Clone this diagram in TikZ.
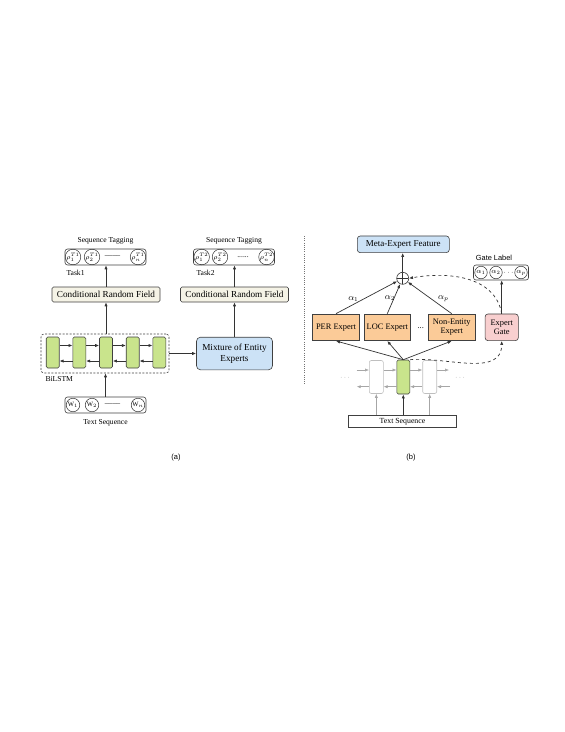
\documentclass[tikz,border=0pt]{standalone}
\usepackage{fontspec}
\setmainfont{Liberation Serif}
\newfontfamily\capfont{Liberation Sans}
\usetikzlibrary{arrows.meta,calc}
\definecolor{crffill}{HTML}{F5F3E6}
\definecolor{cellgreen}{HTML}{C9E48C}
\definecolor{mixblue}{HTML}{CCE2F6}
\definecolor{expertorange}{HTML}{FBCB98}
\definecolor{gatepink}{HTML}{F8CFCF}

\begin{document}
\begin{tikzpicture}[x=1pt, y=1pt, >={Latex[length=4pt,width=3.2pt]},
    box/.style={draw=black!75, line width=0.6pt, inner sep=1pt},
    crf/.style={box, fill=crffill, rounded corners=1.5pt, minimum width=108,
                minimum height=15, font=\fontsize{9.2}{10}\selectfont},
    tagbox/.style={box, rounded corners=2.5pt, minimum width=81, minimum height=16},
    tok/.style={circle, draw=black!80, line width=0.5pt, minimum size=13.5,
                inner sep=0pt, font=\fontsize{6.6}{6.6}\selectfont},
    cell/.style={box, fill=cellgreen, rounded corners=1.5pt, minimum width=13,
                 minimum height=31},
    ghost/.style={draw=black!25, line width=0.6pt, rounded corners=2pt,
                  minimum width=14, minimum height=33},
    expert/.style={box, fill=expertorange, minimum width=46.7, minimum height=26.7,
                   align=center, font=\fontsize{8.4}{9.5}\selectfont},
    small/.style={font=\fontsize{7.6}{8}\selectfont},
    arr/.style={->, line width=0.7pt, black!80},
    garr/.style={->, line width=0.6pt, black!35}]
    \useasboundingbox (0,0) rectangle (565,-732);

    % (a) left model
    \node[small] (titleL) at (105.5,-241) {Sequence Tagging};
    \node[tagbox] (tagL) at (105.5,-257) {};
    \node[tok] (yL1) at (73,-257) {$\rho^{T1}_1$};
    \node[tok] (yL2) at (92,-257) {$\rho^{T1}_2$};
    \node[small] (dotsL) at (112.5,-256) {\_\_\_\_};
    \node[tok] (yLn) at (138,-257) {$\rho^{T1}_n$};
    \node[small, anchor=west] (task1) at (63,-273) {Task1};
    \node[crf] (crfL) at (106,-294.5) {Conditional Random Field};

    \node[box, dash pattern=on 2pt off 1.5pt, rounded corners=3pt,
          minimum width=128, minimum height=39] (lstm) at (105,-353.5) {};
    \foreach \i/\x in {1/52.7,2/79.3,3/106,4/132.7,5/159.3}
        \node[cell] (c\i) at (\x,-352.5) {};
    \foreach \i/\j in {1/2,2/3,3/4,4/5} {
        \draw[arr] ([yshift=7pt]c\i.east) -- ([yshift=7pt]c\j.west);
        \draw[arr] ([yshift=-8.5pt]c\j.west) -- ([yshift=-8.5pt]c\i.east);
    }
    \node[small, anchor=west] (bilstm) at (42,-379) {BiLSTM};

    \node[tagbox] (seqL) at (105.5,-405) {};
    \node[tok] (w1) at (73,-405) {W$_1$};
    \node[tok] (w2) at (92,-405) {W$_2$};
    \node[small] (dotsW) at (112.5,-404) {\_\_\_\_};
    \node[tok] (wn) at (138,-405) {W$_n$};
    \node[small] (seqtxtL) at (105.5,-422.5) {Text Sequence};

    \node[box, fill=mixblue, rounded corners=4pt, minimum width=76, minimum height=32.6,
          align=center, font=\fontsize{9.2}{11}\selectfont] (mix) at (234.5,-353.5)
          {Mixture of Entity\\Experts};
    \node[crf] (crfR) at (234.5,-294.5) {Conditional Random Field};
    \node[small] (titleR) at (234,-241) {Sequence Tagging};
    \node[tagbox] (tagR) at (234,-257) {};
    \node[tok] (yR1) at (201.7,-257) {$\rho^{T2}_1$};
    \node[tok] (yR2) at (220,-257) {$\rho^{T2}_2$};
    \node[small] (dotsR) at (243,-257) {......};
    \node[tok] (yRn) at (266.5,-257) {$\rho^{T2}_n$};
    \node[small, anchor=west] (task2) at (193,-273) {Task2};

    \draw[arr] (seqL.north) -- (seqL.north |- lstm.south);
    \draw[arr] (crfL.south |- lstm.north) -- (crfL.south);
    \draw[arr] (crfL.north) -- (crfL.north |- tagL.south);
    \draw[arr] (lstm.east) -- (mix.west);
    \draw[arr] (mix.north) -- (crfR.south);
    \draw[arr] (crfR.north) -- (crfR.north |- tagR.south);

    % separator
    \draw[black!55, line width=0.9pt, dash pattern=on 0.9pt off 1.3pt] (304,-236) -- (304,-385);

    % (b) right model
    \node[box, fill=mixblue, rounded corners=3pt, minimum width=92, minimum height=16.7,
          font=\fontsize{9}{10}\selectfont] (meta) at (403.3,-244.3) {Meta-Expert Feature};
    \node[circle, draw=black!80, line width=0.6pt, minimum size=12, inner sep=0pt,
          path picture={\draw[black!80, line width=0.6pt]
              (path picture bounding box.north) -- (path picture bounding box.south)
              (path picture bounding box.west) -- (path picture bounding box.east);}]
          (plus) at (402.7,-278.3) {};

    \node[expert] (per) at (336,-327.3) {PER Expert};
    \node[expert] (loc) at (387.3,-327.3) {LOC Expert};
    \node[font=\fontsize{8.4}{9}\selectfont] (dotsE) at (420.7,-328) {...};
    \node[expert] (nonent) at (451.7,-327.3) {Non-Entity\\Expert};
    \node[box, fill=gatepink, rounded corners=3pt, minimum width=33.3, minimum height=26.7,
          align=center, font=\fontsize{8.4}{9.5}\selectfont] (gate) at (501.7,-327.3)
          {Expert\\Gate};

    \node[font=\capfont\fontsize{7.4}{8}\selectfont] (gatetitle) at (494,-258.3) {Gate Label};
    \node[tagbox, minimum width=55, minimum height=15] (glab) at (501,-272.5) {};
    \node[tok, minimum size=12.5, font=\fontsize{7.4}{7.4}\selectfont] (g1) at (481,-272.5) {$\alpha_1$};
    \node[tok, minimum size=12.5, font=\fontsize{7.4}{7.4}\selectfont] (g2) at (496,-272.5) {$\alpha_2$};
    \node[font=\fontsize{7}{7}\selectfont] (gdots) at (508.5,-272.5) {$\cdots$};
    \node[tok, minimum size=12.5, font=\fontsize{7.4}{7.4}\selectfont] (gp) at (521,-272.5) {$\alpha_p$};

    \draw[arr] (per.north) -- (plus);
    \draw[arr] (loc.north) -- (plus);
    \draw[arr] (nonent.north) -- (plus);
    \node[font=\fontsize{9}{9}\selectfont] (w1lab) at (353.3,-299) {$\alpha_1$};
    \node[font=\fontsize{9}{9}\selectfont] (w2lab) at (390,-297.7) {$\alpha_2$};
    \node[font=\fontsize{9}{9}\selectfont] (wplab) at (443.3,-299) {$\alpha_p$};
    \draw[arr] (plus.north) -- (plus.north |- meta.south);
    \draw[arr, dashed] (gate.north) to[out=100, in=10] (plus.east);
    \draw[arr] (gate.north) -- (gate.north |- glab.south);

    \node[ghost] (gcL) at (376.3,-377) {};
    \node[cell, minimum height=34] (gcM) at (403.3,-377) {};
    \node[ghost] (gcR) at (429.7,-377) {};
    \coordinate (fwdIn) at (356.7,-370);
    \coordinate (fwdOut) at (449,-370);
    \coordinate (bwdIn) at (450,-386.7);
    \coordinate (bwdOut) at (356.7,-386.7);
    \draw[garr] (fwdIn) -- (gcL.west |- fwdIn);
    \draw[garr] (gcL.east |- fwdIn) -- (gcM.west |- fwdIn);
    \draw[garr] (gcM.east |- fwdIn) -- (gcR.west |- fwdIn);
    \draw[garr] (gcR.east |- fwdIn) -- (fwdOut);
    \draw[garr] (bwdIn) -- (gcR.east |- bwdIn);
    \draw[garr] (gcR.west |- bwdIn) -- (gcM.east |- bwdIn);
    \draw[garr] (gcM.west |- bwdIn) -- (gcL.east |- bwdIn);
    \draw[garr] (gcL.west |- bwdIn) -- (bwdOut);
    \node[black!45, font=\fontsize{7}{7}\selectfont] (moreL) at (345,-378) {$\cdots$};
    \node[black!45, font=\fontsize{7}{7}\selectfont] (moreR) at (460,-378) {$\cdots$};

    \node[box, minimum width=108.4, minimum height=12.7, font=\fontsize{7.8}{8}\selectfont]
          (seqR) at (402.5,-421.3) {Text Sequence};
    \draw[garr] (seqR.north -| gcL.south) -- (gcL.south);
    \draw[arr, line width=0.9pt] (seqR.north -| gcM.south) -- (gcM.south);
    \draw[garr] (seqR.north -| gcR.south) -- (gcR.south);

    \draw[arr] (gcM.north) -- (per.south);
    \draw[arr] (gcM.north) -- (loc.south);
    \draw[arr] (gcM.north) -- (nonent.south);
    \draw[arr, dashed] (gcM.north east) to[out=5, in=-90] (gate.south);

    \node[font=\capfont\fontsize{7.5}{8}\selectfont] (capA) at (176,-458) {(a)};
    \node[font=\capfont\fontsize{7.5}{8}\selectfont] (capB) at (411,-458) {(b)};
\end{tikzpicture}
\end{document}
